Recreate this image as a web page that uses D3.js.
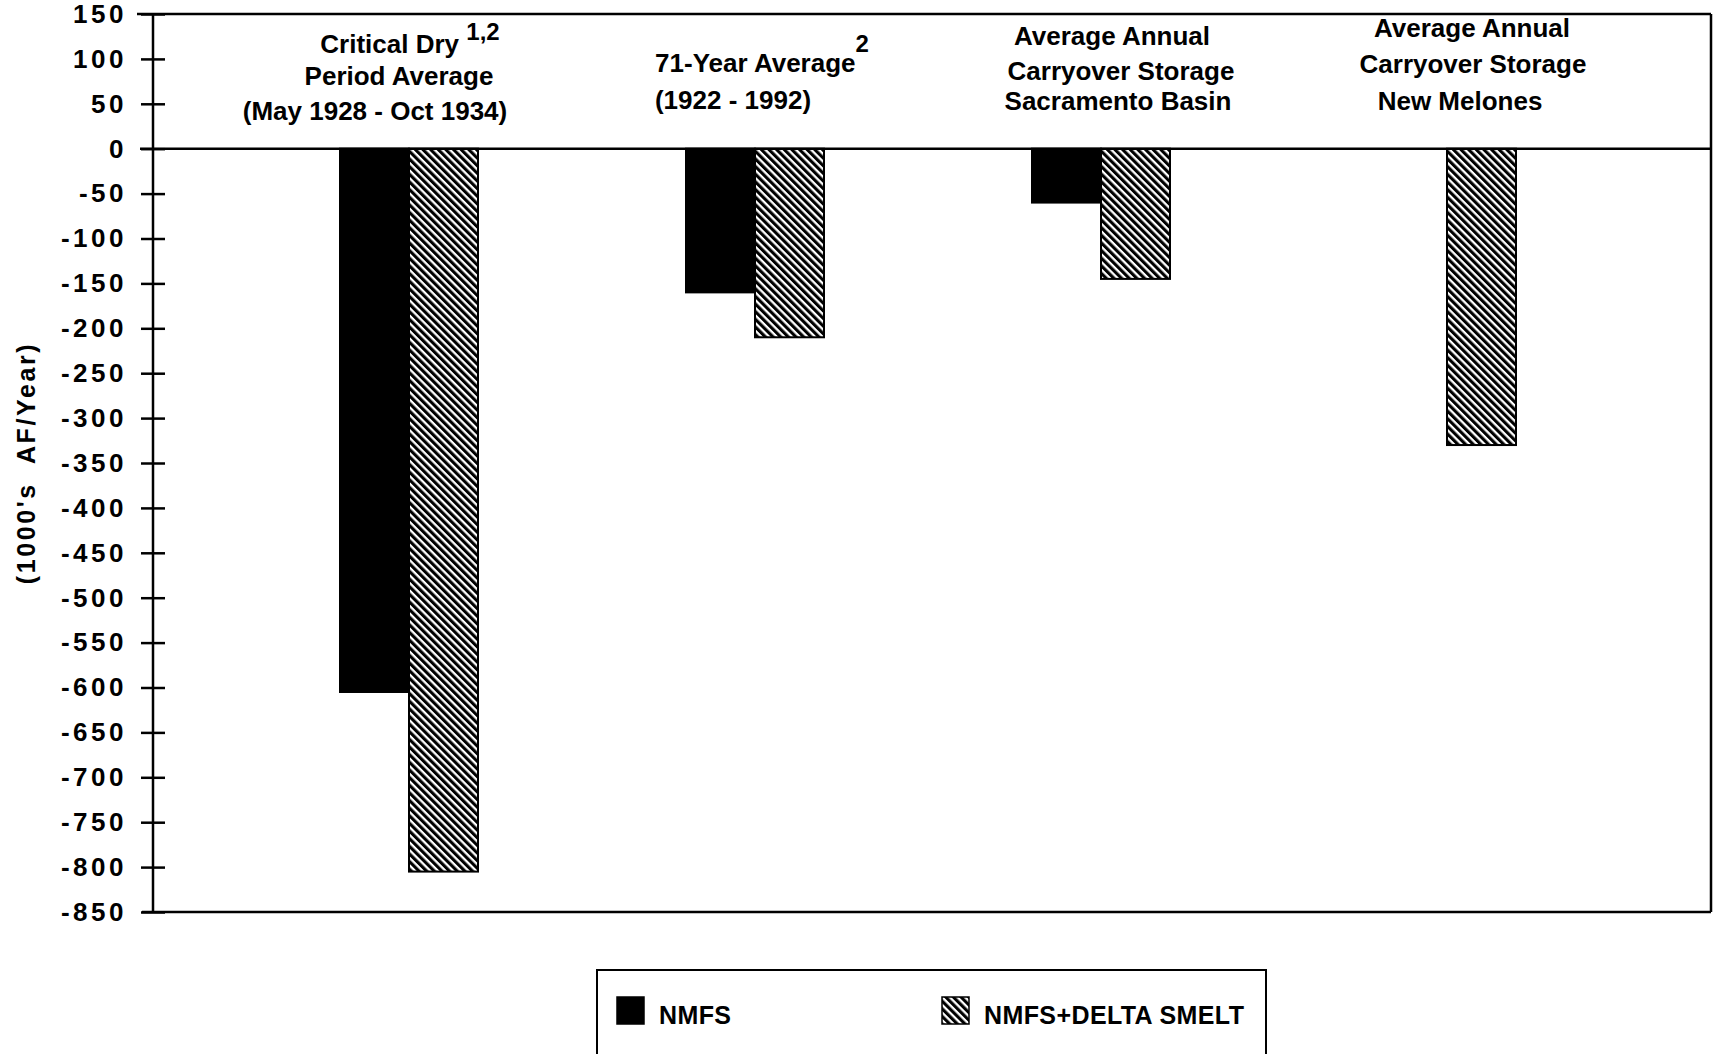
<!DOCTYPE html>
<html><head><meta charset="utf-8">
<script src="https://cdn.jsdelivr.net/npm/d3@7"></script>
<style>
body{margin:0;background:#fff}
svg{display:block}
text{font-family:"Liberation Sans",Arial,Helvetica,sans-serif;fill:#000}
</style>
</head><body>
<svg id="chart" width="1713" height="1054"></svg>
<script>
// ---------------- data ----------------
const categories = ["Critical Dry Period Average", "71-Year Average", "Carryover Storage Sacramento Basin", "Carryover Storage New Melones"];
const seriesNames = ["NMFS", "NMFS+DELTA SMELT"];
const nmfsValues = [-605, -160, -60, null];
const nmfsSmeltValues = [-805, -210, -145, -330];
const yTickValues = [150, 100, 50, 0, -50, -100, -150, -200, -250, -300, -350, -400, -450, -500, -550, -600, -650, -700, -750, -800, -850];
const categoryLabels = [
  [["Critical Dry ", "1,2"], ["Period Average"], ["(May 1928 - Oct 1934)"]],
  [["71-Year Average", "2"], ["(1922 - 1992)"]],
  [["Average Annual"], ["Carryover Storage"], ["Sacramento Basin"]],
  [["Average Annual"], ["Carryover Storage"], ["New Melones"]]
];
const yAxisTitle = "(1000's  AF/Year)";

// ---------------- layout ----------------
const svg = d3.select("#chart");
const axisX = 153, frameRight = 1711;
const y = d3.scaleLinear().domain([150, -850]).range([14, 912]);
const x0 = d3.scaleBand().domain(categories).range([236, 1620]);
const x1 = d3.scaleBand().domain(seriesNames).range([0, 138]);
const barHalf = 69;

// hatch pattern
const defs = svg.append("defs");
const pat = defs.append("pattern").attr("id", "hatch")
  .attr("patternUnits", "userSpaceOnUse").attr("width", 5.4).attr("height", 20)
  .attr("patternTransform", "rotate(-45)");
pat.append("rect").attr("width", 5.4).attr("height", 20).attr("fill", "#fff");
pat.append("rect").attr("width", 3.1).attr("height", 20).attr("fill", "#000");

// bars
const rows = categories.map((c, i) => ({cat: c, vals: [nmfsValues[i], nmfsSmeltValues[i]]}));
const groups = svg.append("g").selectAll("g").data(rows).join("g")
  .attr("transform", d => `translate(${x0(d.cat) + x0.bandwidth() / 2 - barHalf},0)`);
groups.selectAll("rect")
  .data(d => d.vals.map((v, k) => ({s: seriesNames[k], v})).filter(e => e.v !== null))
  .join("rect")
  .attr("x", e => x1(e.s))
  .attr("y", y(0))
  .attr("width", x1.bandwidth())
  .attr("height", e => y(e.v) - y(0))
  .attr("fill", e => e.s === "NMFS" ? "#000" : "url(#hatch)")
  .attr("stroke", "#000").attr("stroke-width", 2);

// frame
const frame = svg.append("g").attr("stroke", "#000").attr("stroke-width", 2.5);
frame.append("line").attr("x1", 137).attr("x2", frameRight).attr("y1", y(150)).attr("y2", y(150));
frame.append("line").attr("x1", frameRight).attr("x2", frameRight).attr("y1", y(150)).attr("y2", y(-850));
frame.append("line").attr("x1", 142).attr("x2", frameRight).attr("y1", y(-850)).attr("y2", y(-850));
frame.append("line").attr("x1", 140).attr("x2", frameRight).attr("y1", y(0)).attr("y2", y(0));
frame.append("line").attr("x1", axisX).attr("x2", axisX).attr("y1", y(150)).attr("y2", y(-850));

// y axis
const yAxis = svg.append("g").attr("transform", `translate(${axisX},0)`)
  .call(d3.axisLeft(y).tickValues(yTickValues).tickSize(12).tickPadding(14).tickFormat(d => String(d)));
yAxis.select(".domain").remove();
yAxis.selectAll(".tick line").attr("x1", 12).attr("stroke", "#000").attr("stroke-width", 2.5);
yAxis.selectAll(".tick text")
  .style("font-family", '"Liberation Sans",Arial,sans-serif')
  .style("font-size", "26px").style("font-weight", "bold").style("letter-spacing", "3.5px")
  .attr("fill", "#000");

// y title
svg.append("text")
  .attr("transform", "translate(35,463) rotate(-90)")
  .attr("text-anchor", "middle")
  .style("font-size", "25px").style("font-weight", "bold").style("letter-spacing", "2.6px")
  .style("white-space", "pre")
  .text(yAxisTitle);

// category labels
const labelDx = [[1, -10, -34], [7, -22], [11, 20, 17], [25, 26, 13]];
const labelBase = [[53, 85, 120], [72, 109], [45, 80, 110], [37, 73, 110]];
const supRaise = [13, 20];
categoryLabels.forEach((lines, i) => {
  const cx = x0(categories[i]) + x0.bandwidth() / 2;
  lines.forEach((ln, j) => {
    const t = svg.append("text")
      .attr("x", cx + labelDx[i][j]).attr("y", labelBase[i][j])
      .attr("text-anchor", "middle")
      .style("font-size", "26px").style("font-weight", "bold")
      .style("white-space", "pre");
    t.append("tspan").text(ln[0]);
    if (ln[1]) {
      const r = supRaise[i] || 15;
      t.append("tspan").attr("dy", -r).style("font-size", "24px").text(ln[1]);
    }
  });
});

// legend
const leg = svg.append("g");
leg.append("rect").attr("x", 597).attr("y", 970).attr("width", 669).attr("height", 110)
  .attr("fill", "none").attr("stroke", "#000").attr("stroke-width", 2);
const legItems = [
  {name: seriesNames[0], sx: 617, tx: 659, fill: "#000"},
  {name: seriesNames[1], sx: 942, tx: 984, fill: "url(#hatch)"}
];
legItems.forEach(it => {
  leg.append("rect").attr("x", it.sx).attr("y", 997).attr("width", 27).attr("height", 27)
    .attr("fill", it.fill).attr("stroke", "#000").attr("stroke-width", 1.5);
  leg.append("text").attr("x", it.tx).attr("y", 1024)
    .style("font-size", "25px").style("font-weight", "bold").style("letter-spacing", "0.4px").text(it.name);
});
</script>
</body></html>
